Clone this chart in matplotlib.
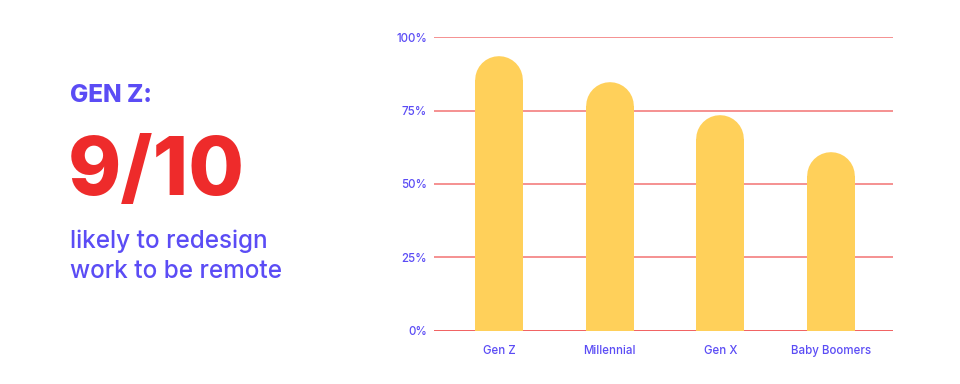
import matplotlib.pyplot as plt

plt.rcParams['font.family'] = ['Inter', 'DejaVu Sans']

# Données
generations = ['Gen Z', 'Millennial', 'Gen X', 'Baby Boomers']
valeurs = [93.7, 84.7, 73.5, 61]
graduations = [0, 25, 50, 75, 100]
etiquettes_y = ['0%', '25%', '50%', '75%', '100%']

violet = '#5B4CF5'
rouge = '#EE2B2B'
jaune = '#FFD05A'

fig = plt.figure(figsize=(9.6, 3.84), dpi=100)
ax = fig.add_axes([0.452, 0.1388, 0.478, 0.7642])
ax.set_xlim(-0.59, 3.56)
ax.set_ylim(0, 100)

# Lignes horizontales
for g in graduations:
    couleur = '#EF4545' if g == 0 else '#F47E7E'
    ax.axhline(g, color=couleur, lw=1.2, zorder=1)

# Barres à sommet arrondi
largeur_px = 47.7
haut_px = ax.get_position().height * fig.get_figheight() * fig.dpi
rayon = (largeur_px / 2) / (haut_px / 100)
largeur_data = largeur_px / (ax.get_position().width * fig.get_figwidth() * fig.dpi) * (3.56 + 0.59)
x = range(len(generations))
for i, v in zip(x, valeurs):
    ax.bar(i, v - rayon, width=largeur_data, color=jaune, zorder=2, linewidth=0)
    ax.plot([i, i], [(v - rayon) / 2, v - rayon], color=jaune, lw=largeur_px * 0.72,
            solid_capstyle='round', zorder=2)

ax.set_xticks(list(x))
ax.set_xticklabels(generations)
ax.set_yticks(graduations)
ax.set_yticklabels(etiquettes_y)
ax.tick_params(length=0, labelsize=8.3, labelcolor=violet)
ax.tick_params(axis='x', pad=10)
ax.tick_params(axis='y', pad=5)
for lab in ax.get_xticklabels() + ax.get_yticklabels():
    lab.set_fontweight('medium')
for s in ax.spines.values():
    s.set_visible(False)

# Texte de gauche
fig.text(70 / 960, 1 - 96 / 384, 'GEN Z:', color=violet, fontsize=17.5, fontweight='heavy', va='center')
fig.text(68 / 960, 1 - 174 / 384, '9/10', color=rouge, fontsize=58, fontweight='heavy', va='center')
fig.text(70 / 960, 1 - 241 / 384, 'likely to redesign', color=violet, fontsize=17.5,
         fontweight='medium', va='center')
fig.text(70 / 960, 1 - 271 / 384, 'work to be remote', color=violet, fontsize=17.5,
         fontweight='medium', va='center')

fig.savefig('out.png', dpi=100)
